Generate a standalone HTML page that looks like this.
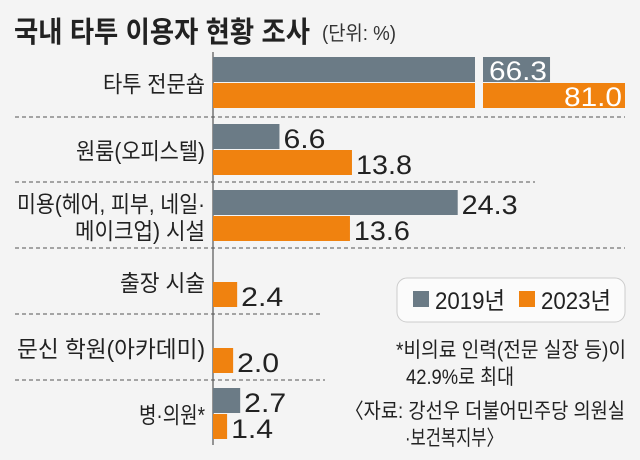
<!DOCTYPE html>
<html><head><meta charset="utf-8"><style>
html,body{margin:0;padding:0;background:#f4f4f4;}
svg{display:block;font-family:"Liberation Sans","Noto Sans CJK KR",sans-serif;}
</style></head><body>
<svg id="c" width="640" height="460" viewBox="0 0 640 460">
<rect x="0" y="0" width="640" height="460" fill="#f4f4f4"/>
<text x="14" y="42" font-size="29" font-weight="bold" fill="#222" textLength="296" lengthAdjust="spacingAndGlyphs">국내 타투 이용자 현황 조사</text>
<text x="322" y="40" font-size="20" fill="#333" textLength="74" lengthAdjust="spacingAndGlyphs">(단위: %)</text>
<line x1="213" y1="52" x2="213" y2="445" stroke="#333" stroke-width="1"/>
<g id="marks"></g>
<rect x="397" y="278" width="228" height="44" rx="10" fill="#fbfbfb" stroke="#ccc"/>
<rect x="413" y="291" width="16" height="16" fill="#6b7b86"/>
<text x="435" y="309" font-size="24" fill="#222" textLength="70" lengthAdjust="spacingAndGlyphs">2019년</text>
<rect x="519" y="291" width="16" height="16" fill="#f0820f"/>
<text x="541" y="309" font-size="24" fill="#222" textLength="70" lengthAdjust="spacingAndGlyphs">2023년</text>
<text x="396" y="357" font-size="21" fill="#222" textLength="230" lengthAdjust="spacingAndGlyphs">*비의료 인력(전문 실장 등)이</text>
<text x="406" y="384" font-size="21" fill="#222" textLength="108" lengthAdjust="spacingAndGlyphs">42.9%로 최대</text>
<text x="345" y="418" font-size="21" fill="#222" textLength="280" lengthAdjust="spacingAndGlyphs">〈자료: 강선우 더불어민주당 의원실</text>
<text x="405" y="445" font-size="21" fill="#222" textLength="98" lengthAdjust="spacingAndGlyphs">·보건복지부〉</text>
</svg>
<script>
const categories = [["타투 전문숍"], ["원룸(오피스텔)"], ["미용(헤어, 피부, 네일·", "메이크업) 시설"], ["출장 시술"], ["문신 학원(아카데미)"], ["병·의원*"]];
const values2019 = [66.3, 6.6, 24.3, 0, 0, 2.7];
const values2023 = [81.0, 13.8, 13.6, 2.4, 2.0, 1.4];
const labels2019 = ["66.3", "6.6", "24.3", "", "", "2.7"];
const labels2023 = ["81.0", "13.8", "13.6", "2.4", "2.0", "1.4"];

const NS = "http://www.w3.org/2000/svg";
const g = document.getElementById("marks");
const x0 = 213;
function xs(v){
  if (v <= 40) return x0 + v * 10.07;
  return 625 - (81 - v) * 5.1;
}
const rowTop = [57, 124, 190, 256, 322, 388];
const labelW = [[102], [129], [188, 130], [85], [188], [66]];
const sepY = [117, 182, 248, 314, 380];
const sepEnd = [625, 535, 625, 323, 325];
const barH = 25;
function el(tag, attrs){ const e = document.createElementNS(NS, tag); for (const k in attrs) e.setAttribute(k, attrs[k]); g.appendChild(e); return e; }

sepY.forEach((y, i) => {
  const l = el("line", {x1: 15, y1: y, x2: sepEnd[i], y2: y, stroke: "#555", "stroke-width": 1, "stroke-dasharray": "4,3"});
  
  
});

function drawBar(v, y, color, label, series){
  if (v <= 0) return;
  const end = xs(v);
  if (v > 40) {
    const r1 = el("rect", {x: x0, y: y, width: 475 - x0, height: barH, fill: color});
    
    
    const r2 = el("rect", {x: 483, y: y, width: end - 483, height: barH, fill: color});
    
    
    const t = el("text", {x: end - 3, y: y + 23, "font-size": 27, fill: "#fff", "text-anchor": "end", textLength: label.length * 14.5, lengthAdjust: "spacingAndGlyphs"});
    t.textContent = label;
    
    
  } else {
    const r = el("rect", {x: x0, y: y, width: end - x0, height: barH, fill: color});
    
    
    const t = el("text", {x: end + 4, y: y + 24, "font-size": 27, fill: "#222", textLength: label.length * 14, lengthAdjust: "spacingAndGlyphs"});
    t.textContent = label;
    
    
  }
}

categories.forEach((lines, i) => {
  const top = rowTop[i];
  drawBar(values2019[i], top, "#6b7b86", labels2019[i], "2019");
  drawBar(values2023[i], top + barH + 1, "#f0820f", labels2023[i], "2023");
  const cy = top + barH + 10;
  lines.forEach((ln, j) => {
    const yy = lines.length === 1 ? cy : cy - 13 + j * 27;
    const t = el("text", {x: 205, y: yy, "font-size": 23, fill: "#222", "text-anchor": "end", textLength: labelW[i][j], lengthAdjust: "spacingAndGlyphs"});
    t.textContent = ln;
    
    
  });
});
</script>
</body></html>
